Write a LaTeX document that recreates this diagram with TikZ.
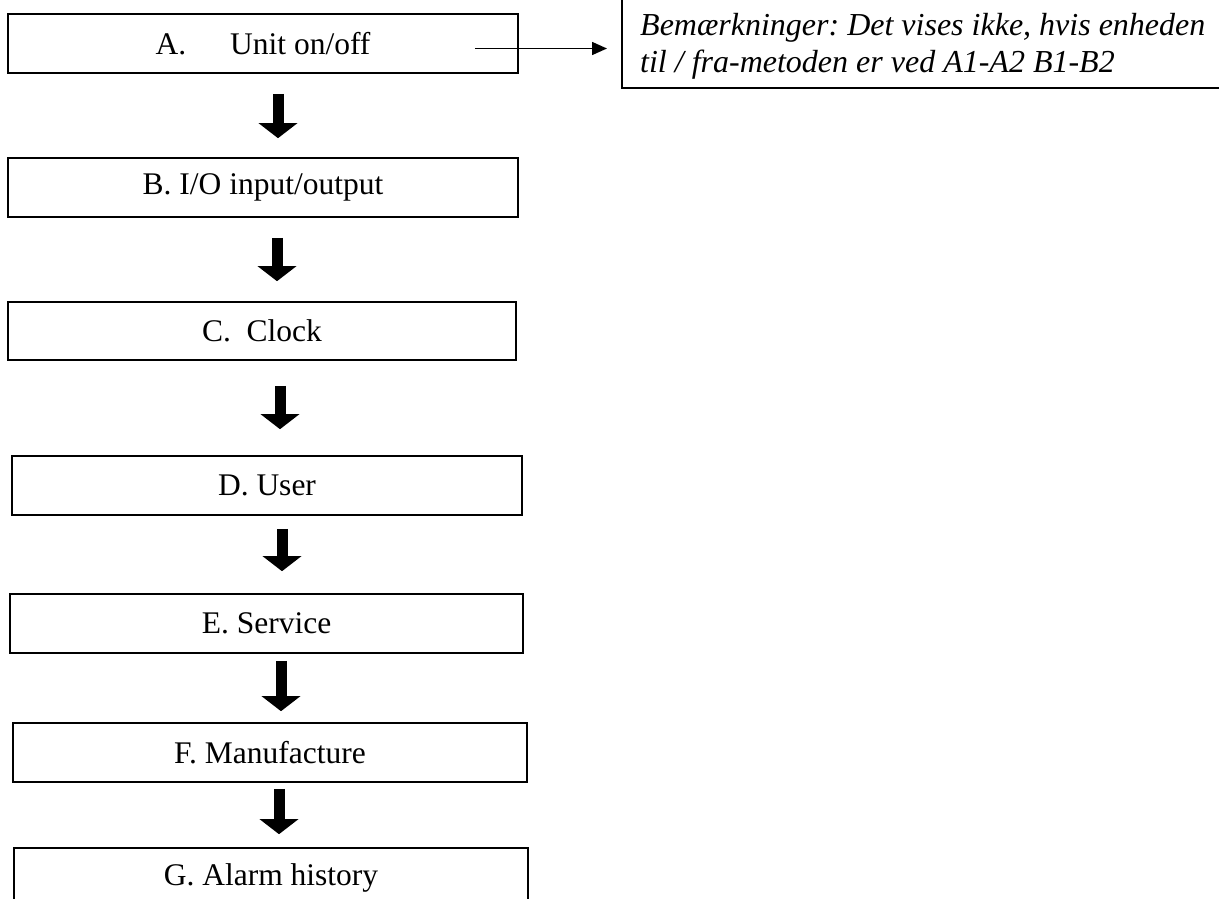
\documentclass[tikz,border=0pt]{standalone}
\usepackage{fontspec}
\setmainfont{Liberation Serif}
\usetikzlibrary{arrows.meta,calc}
\frenchspacing
\begin{document}
\begin{tikzpicture}[x=1pt,y=-1pt,
  box/.style={draw, line width=1.6pt, rectangle, inner sep=0pt,
    minimum height=59pt, font=\fontsize{31.5}{37}\selectfont},
  bigarrow/.style={line width=11pt, -{Triangle[width=38pt,length=15pt]}},
  thinarrow/.style={line width=1.6pt, -{Triangle[width=13pt,length=15pt]}},
  notebox/.style={draw, line width=1.5pt, rectangle, inner sep=0pt},
  notetext/.style={font=\fontsize{32}{37}\selectfont\itshape, align=left,
    inner sep=0pt, anchor=north west}]
\useasboundingbox (0,0) rectangle (1219,899);
\clip (0,0) rectangle (1219,899);
\fill[white] (0,0) rectangle (1219,899);

% boxes
\node[box, minimum width=510pt] (A) at (263,43.5) {A.\hspace{44pt}Unit on/off};
\node[box, minimum width=510pt] (B) at (263,187.5) {B. I/O input/output};
\node[box, minimum width=508pt, minimum height=58pt] (C) at (262,331) {C.\ \ Clock};
\node[box, minimum width=510pt] (D) at (267,485.5) {D. User};
\node[box, minimum width=513pt] (E) at (266.5,623.5) {E. Service};
\node[box, minimum width=514pt] (F) at (270,752.5) {F. Manufacture};
\node[box, minimum width=514pt] (G) at (271,877.5) {G. Alarm history};

% note box (extends beyond the top and right edges)
\node[notebox, minimum width=640pt, minimum height=109pt, anchor=south west] (note) at (621,89) {};
\node[notetext] (nt) at (640,13) {Bemærkninger: Det vises ikke, hvis enheden\\til / fra-metoden er ved A1-A2 B1-B2};

% thin arrow from A to the note
\coordinate (s) at ($(A.east)+(-44,5)$);
\draw[thinarrow, shorten >=14pt] (s) -- (s -| note.west);

% thick down arrows
\draw[bigarrow] ($(A.south)+(15,20)$) -- ($(B.north)+(15,-19)$);
\draw[bigarrow] ($(B.south)+(14,20)$) -- ($(C.north)+(15,-20)$);
\draw[bigarrow] ($(C.south)+(18,25)$) -- ($(D.north)+(13,-26)$);
\draw[bigarrow] ($(D.south)+(15,13)$) -- ($(E.north)+(15.5,-22)$);
\draw[bigarrow] ($(E.south)+(14.5,7)$) -- ($(F.north)+(11,-11)$);
\draw[bigarrow] ($(F.south)+(9,6)$) -- ($(G.north)+(8,-13)$);
\end{tikzpicture}
\end{document}
